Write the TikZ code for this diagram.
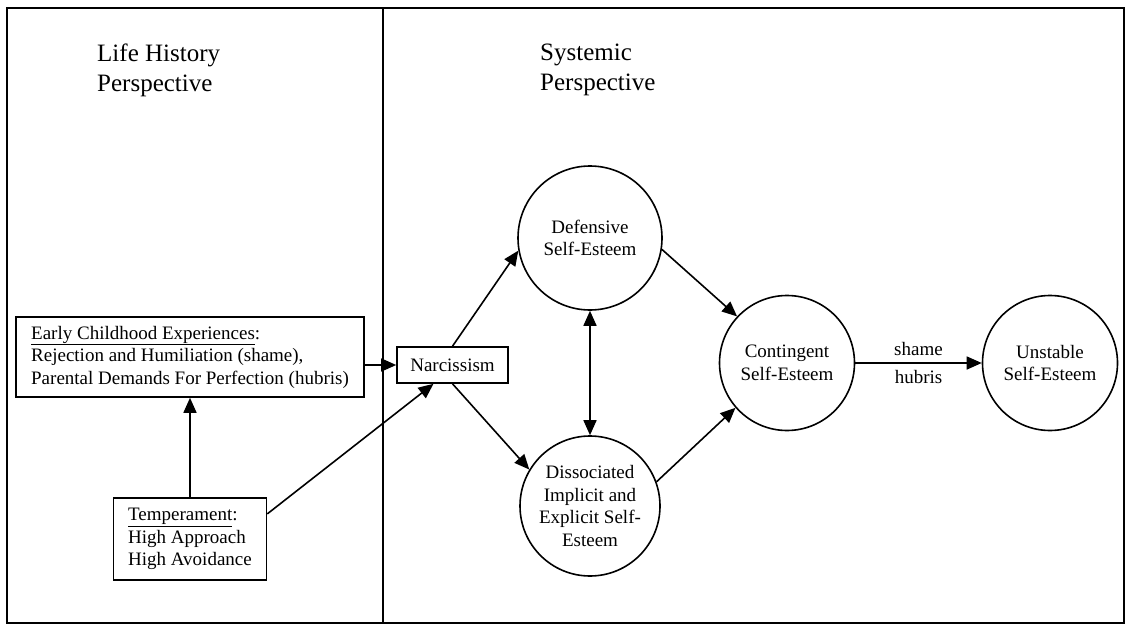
\documentclass[tikz,border=0pt]{standalone}
\usepackage{fontspec}
\setmainfont{Liberation Serif}
\usetikzlibrary{arrows.meta}
\begin{document}
\begin{tikzpicture}[x=1pt,y=-1pt,
  body/.style={font=\fontsize{19}{22.5}\selectfont, align=center, inner sep=0pt},
  box/.style={draw, line width=1.6pt, body},
  circ/.style={draw, circle, line width=1.6pt, inner sep=0pt, body},
  arr/.style={-{Triangle[length=15pt,width=13pt]}, line width=1.6pt},
  darr/.style={{Triangle[length=15pt,width=13pt]}-{Triangle[length=15pt,width=13pt]}, line width=1.6pt},
  head/.style={font=\fontsize{25}{30}\selectfont, align=left, inner sep=0pt, anchor=north west}]
\useasboundingbox (0,0) rectangle (1127,634);
\fill[white] (0,0) rectangle (1127,634);
% frame
\draw[line width=1.2pt] (7,8) rectangle (1124,623);
\draw[line width=1.2pt] (383,8) -- (383,623);
% headings
\node[head] (h1) at (97,44) {Life History\\Perspective};
\node[head] (h2) at (540,44) {Systemic\\Perspective};
% boxes
\node[box, align=left, minimum width=348pt, minimum height=80pt] (early) at (190,357)
  {\underline{Early Childhood Experiences}:\\Rejection and Humiliation (shame),\\Parental Demands For Perfection (hubris)};
\node[box, align=left, minimum width=153pt, minimum height=82pt] (temp) at (190,539)
  {\underline{Temperament}:\\High Approach\\High Avoidance};
\node[box, minimum width=111pt, minimum height=36pt] (narc) at (452.5,365) {Narcissism};
% circles
\node[circ, minimum size=144pt] (def) at (590,238) {Defensive\\Self-Esteem};
\node[circ, minimum size=140pt] (dis) at (590,506) {Dissociated\\Implicit and\\Explicit Self-\\Esteem};
\node[circ, minimum size=135pt] (cont) at (787,363) {Contingent\\Self-Esteem};
\node[circ, minimum size=135pt] (unst) at (1050,363) {Unstable\\Self-Esteem};
% connectors
\draw[arr] (temp.north) -- (early.south);
\draw[arr] (early.east |- narc.west) -- (narc.west);
\draw[arr] (temp.18) -- ([xshift=-19pt]narc.south);
\draw[arr] (narc.north) -- (def.190);
\draw[arr] (narc.south) -- (dis.149);
\draw[darr] (def.south) -- (dis.north);
\draw[arr] (def.351) -- (cont.137);
\draw[arr] (dis.20) -- (cont.221);
\draw[arr] (cont.east) -- node[body, above, inner sep=7pt] (lshame) {shame}
  node[body, below, inner sep=7pt] (lhubris) {hubris} (unst.west);
\end{tikzpicture}
\end{document}
